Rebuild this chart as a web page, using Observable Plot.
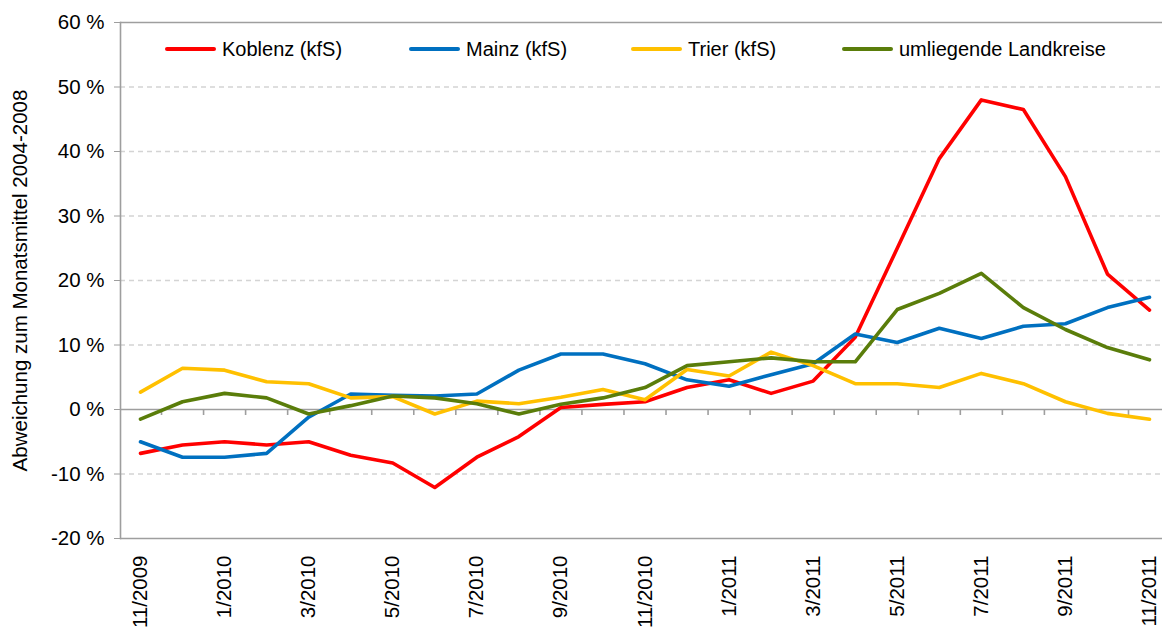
<!DOCTYPE html>
<html>
<head>
<meta charset="utf-8">
<script src="https://cdn.jsdelivr.net/npm/d3@7"></script>
<script src="https://cdn.jsdelivr.net/npm/@observablehq/plot@0.6"></script>
<style>
  html, body { margin: 0; padding: 0; background: #fff; }
  #wrap { position: relative; width: 1162px; height: 632px; font-family: "Liberation Sans", Arial, sans-serif; }
  #legend { position: absolute; top: 37px; left: 0; height: 24px; width: 1162px; font-size: 20px; color: #000; }
  .item { position: absolute; top: 0; display: flex; align-items: center; height: 24px; white-space: nowrap; }
  .sw { width: 51px; height: 4px; margin-right: 6px; border-radius: 2px; }
</style>
</head>
<body>
<div id="wrap"><div id="legend"></div></div>
<script>
const months = ["11/2009","12/2009","1/2010","2/2010","3/2010","4/2010","5/2010","6/2010","7/2010","8/2010","9/2010","10/2010","11/2010","12/2010","1/2011","2/2011","3/2011","4/2011","5/2011","6/2011","7/2011","8/2011","9/2011","10/2011","11/2011"];
const seriesNames = ["Koblenz (kfS)", "Mainz (kfS)", "Trier (kfS)", "umliegende Landkreise"];
const koblenz = [-6.8,-5.5,-5.0,-5.5,-5.0,-7.1,-8.3,-12.1,-7.4,-4.2,0.3,0.8,1.2,3.4,4.6,2.5,4.4,11.2,25.0,38.9,48.0,46.5,36.1,21.0,15.4];
const mainz = [-5.0,-7.4,-7.4,-6.8,-1.2,2.4,2.2,2.1,2.4,6.1,8.6,8.6,7.1,4.6,3.6,5.4,7.1,11.7,10.4,12.6,11.0,12.9,13.3,15.8,17.4];
const trier = [2.7,6.4,6.1,4.3,4.0,1.8,2.0,-0.7,1.3,0.9,1.9,3.1,1.5,6.2,5.2,8.9,6.8,4.0,4.0,3.4,5.6,4.0,1.2,-0.6,-1.5];
const landkreise = [-1.5,1.2,2.5,1.8,-0.7,0.6,2.1,1.8,0.9,-0.7,0.8,1.8,3.4,6.8,7.4,8.0,7.4,7.4,15.5,18.0,21.1,15.8,12.4,9.6,7.7];
const yTicks = [-20,-10,0,10,20,30,40,50,60];
const yLabel = "Abweichung zum Monatsmittel 2004-2008";

const colors = ["#ff0000", "#0070c0", "#ffc000", "#5a7d0a"];
const allSeries = [koblenz, mainz, trier, landkreise];
const rows = allSeries.flatMap((vals, s) => vals.map((v, i) => ({series: seriesNames[s], i, value: v})));
const idx = months.map((m, i) => i);
const labelIdx = idx.filter(i => i % 2 === 0);
const between = idx.slice(1).map(i => i - 0.5);

const chart = Plot.plot({
  width: 1162,
  height: 632,
  marginTop: 22,
  marginBottom: 94,
  marginLeft: 120,
  marginRight: 0,
  style: {fontFamily: "Liberation Sans, Arial, sans-serif", fontSize: "20.5px", color: "#000", background: "#fff", overflow: "visible"},
  x: {type: "linear", domain: [0, months.length - 1], range: [140, 1149]},
  y: {domain: [-20, 60]},
  color: {domain: seriesNames, range: colors},
  marks: [
    Plot.gridY(yTicks.filter(d => d !== 0 && d !== 60 && d !== -20), {stroke: "#d4d4d4", strokeOpacity: 1, strokeWidth: 1.6, strokeDasharray: "5,4"}),
    Plot.ruleY([60, -20, 0], {stroke: "#9e9e9e", strokeWidth: 1.6}),
    Plot.ruleX(between, {x: d => d, y1: 0, y2: 0, insetBottom: -6, stroke: "#9e9e9e", strokeWidth: 1.6}),
    Plot.frame({anchor: "left", stroke: "#9e9e9e", strokeWidth: 1.6}),
    Plot.axisY({ticks: yTicks, tickFormat: d => `${d} %`, tickSize: 6, tickPadding: 10, stroke: "#9e9e9e", fill: "#000",
      label: yLabel, labelAnchor: "center", labelArrow: "none", labelOffset: 108}),
    Plot.axisX({ticks: labelIdx, tickFormat: i => months[i], tickRotate: -90, tickSize: 0, tickPadding: 17, label: null, fill: "#000"}),
    Plot.lineY(rows, {x: "i", y: "value", z: "series", stroke: "series", strokeWidth: 3.6, strokeLinejoin: "round", strokeLinecap: "round"})
  ]
});
document.getElementById("wrap").prepend(chart);

const legendLeft = [165, 409, 631, 842];
const legend = document.getElementById("legend");
seriesNames.forEach((name, k) => {
  const item = document.createElement("div");
  item.className = "item";
  item.style.left = legendLeft[k] + "px";
  const sw = document.createElement("span");
  sw.className = "sw";
  sw.style.background = colors[k];
  const t = document.createElement("span");
  t.textContent = name;
  item.append(sw, t);
  legend.append(item);
});
</script>
</body>
</html>
